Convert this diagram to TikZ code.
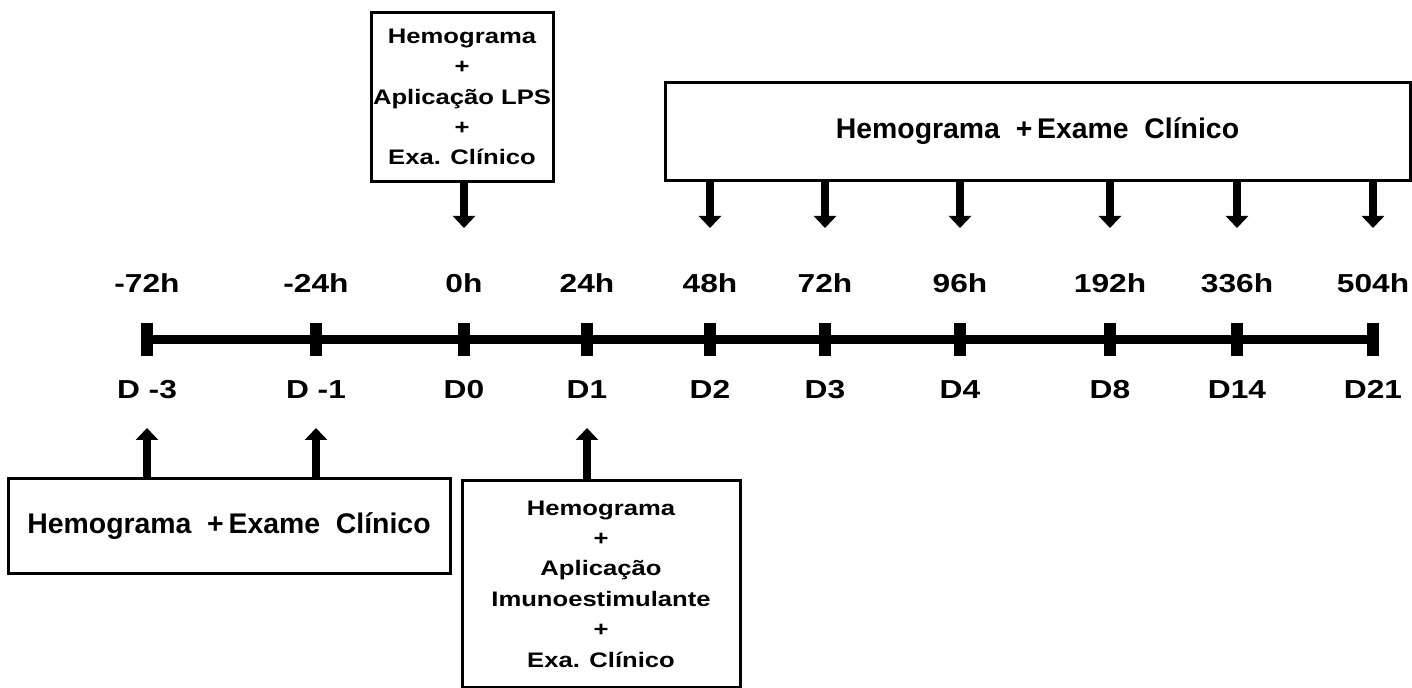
\documentclass[tikz,border=0pt]{standalone}
\usepackage{fontspec}
\setmainfont{Liberation Sans}
\newfontfamily\widefont{Liberation Sans}[FakeStretch=1.22]
\usetikzlibrary{arrows.meta}
\usetikzlibrary{positioning}
\tikzset{every picture/.style={x=0.5pt,y=-0.5pt}}
\tikzset{box/.style={draw,line width=1.5pt,align=center,inner sep=0pt,font=\widefont\fontsize{10.5}{15.2}\selectfont\bfseries},
  widebox/.style={box,font=\fontsize{14.2}{16}\selectfont\bfseries},
  lbl/.style={anchor=base,inner sep=0pt,font=\widefont\fontsize{13}{14}\selectfont\bfseries},
  fat/.style={line width=4pt,-{Triangle[width=11pt,length=6pt]}}}

\begin{document}
\begin{tikzpicture}
\useasboundingbox (0,0) rectangle (1412,688);

% time axis
\foreach \x/\h/\d [count=\i] in {147/-72h/D -3, 316/-24h/D -1, 464/0h/D0, 587/24h/D1, 710/48h/D2,
    825/72h/D3, 960/96h/D4, 1110/192h/D8, 1237/336h/D14, 1373/504h/D21}
{
  \coordinate (t\i) at (\x,340);
  \coordinate (a\i) at (\x,228);
  \coordinate (b\i) at (\x,428);
  \node (h\i) [lbl] at (\x,293) {\h};
  \node (d\i) [lbl] at (\x,399) {\d};
}
\draw[line width=4.5pt] (t1) -- (t10);
\foreach \i in {1,...,10}
  \draw[line width=6pt] (t\i) ++(0,-17) -- ++(0,33);

% boxes
\node (lps) [box, minimum width=91pt, minimum height=84.5pt] at (462,97)
  {Hemograma\\+\\Aplicação LPS\\+\\Exa. Clínico};
\node (exame) [widebox, minimum width=372.5pt, minimum height=49pt] at (1037.5,131.5)
  {Hemograma \ +\,Exame \ Clínico};
\node (pre) [widebox, minimum width=221pt, minimum height=47.5pt] at (229,526.5)
  {Hemograma \ +\,Exame \ Clínico};
\node (imuno) [box, minimum width=139pt, minimum height=103pt] at (601,584)
  {Hemograma\\+\\Aplicação\\Imunoestimulante\\+\\Exa. Clínico};

% arrows
\draw[fat] (a3 |- lps.south) -- (a3);
\foreach \i in {5,...,10}
  \draw[fat] (a\i |- exame.south) -- (a\i);
\draw[fat] (b1 |- pre.north) -- (b1);
\draw[fat] (b2 |- pre.north) -- (b2);
\draw[fat] (b4 |- imuno.north) -- (b4);
\end{tikzpicture}
\end{document}
